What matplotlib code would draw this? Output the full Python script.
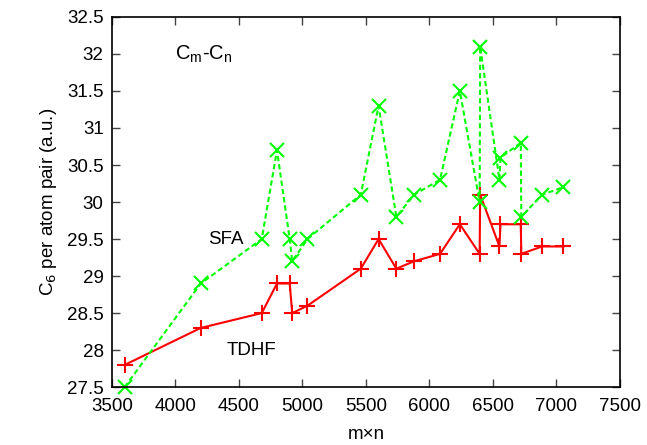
import matplotlib.pyplot as plt

plt.rcParams["font.family"] = ["Liberation Sans", "DejaVu Sans"]

# m x n products (sorted) and C6 per atom pair values
mn = [3600, 4200, 4680, 4800, 4900, 4920, 5040, 5460, 5600, 5740, 5880,
      6084, 6240, 6396, 6400, 6552, 6560, 6720, 6724, 6888, 7056]
tdhf = [27.8, 28.3, 28.5, 28.9, 28.9, 28.5, 28.6, 29.1, 29.5, 29.1, 29.2,
        29.3, 29.7, 29.3, 30.1, 29.4, 29.7, 29.7, 29.3, 29.4, 29.4]
sfa = [27.5, 28.9, 29.5, 30.7, 29.5, 29.2, 29.5, 30.1, 31.3, 29.8, 30.1,
       30.3, 31.5, 30.0, 32.1, 30.3, 30.6, 30.8, 29.8, 30.1, 30.2]

xticks = [3500, 4000, 4500, 5000, 5500, 6000, 6500, 7000, 7500]
yticks = [27.5, 28, 28.5, 29, 29.5, 30, 30.5, 31, 31.5, 32, 32.5]

fs = 13.5

fig = plt.figure(figsize=(6.47, 4.45), dpi=100)
ax = fig.add_axes([0.173, 0.130, 0.785, 0.832])

ax.plot(mn, tdhf, color="#ff0000", lw=1.5, marker="+", ms=11, mew=1.5,
        clip_on=False)
ax.plot(mn, sfa, color="#00ff00", lw=1.5, ls=(0, (2.5, 1.5)),
        marker="x", ms=10, mew=1.5, clip_on=False)

ax.set_xlim(3500, 7500)
ax.set_ylim(27.5, 32.5)
ax.set_xticks(xticks)
ax.set_xticklabels([str(t) for t in xticks])
ax.set_yticks(yticks)
ax.set_yticklabels([f"{t:g}" for t in yticks])
ax.tick_params(direction="in", top=True, right=True, length=6, width=1,
               labelsize=fs, pad=6, color="#444444")
ax.tick_params(axis="x", pad=8)
for s in ax.spines.values():
    s.set_linewidth(1.2)

ax.set_xlabel("m×n", fontsize=fs, labelpad=8)
ax.set_ylabel("C$_6$ per atom pair (a.u.)", fontsize=fs, labelpad=6)

ax.text(4000, 32.0, "C$_\\mathregular{m}$-C$_\\mathregular{n}$", fontsize=fs + 1,
        va="center", ha="left")
ax.text(4256, 29.5, "SFA", fontsize=fs, va="center", ha="left")
ax.text(4405, 28.0, "TDHF", fontsize=fs, va="center", ha="left")

fig.savefig("out.png", dpi=100)
